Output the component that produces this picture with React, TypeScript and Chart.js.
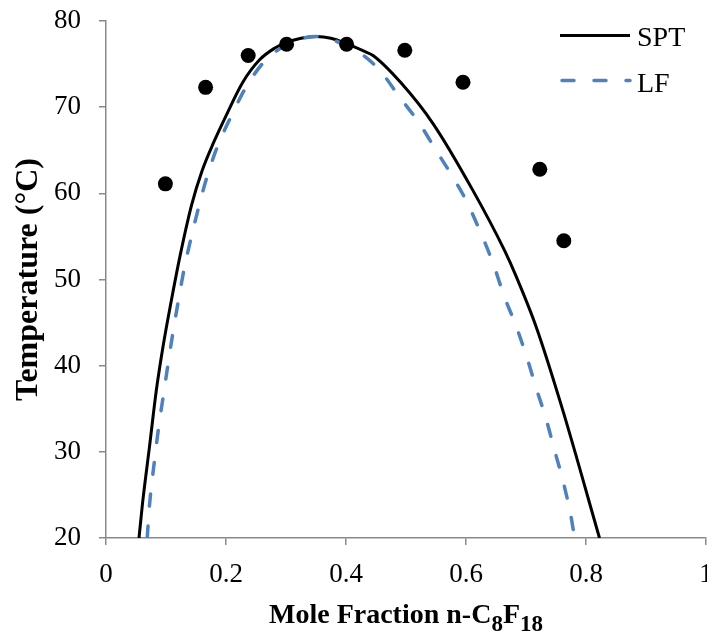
import React, { useEffect, useRef } from 'react';
import { Chart, registerables } from 'chart.js';

Chart.register(...registerables);

// Experimental data (points)
const expX = [0.099, 0.166, 0.237, 0.301, 0.401, 0.498, 0.595, 0.723, 0.763];
const expY = [61.1, 72.3, 76.0, 77.3, 77.3, 76.6, 72.9, 62.8, 54.5];

// SPT curve
const sptX = [0.055, 0.061, 0.0725, 0.084, 0.095, 0.109, 0.123, 0.1425, 0.16, 0.18, 0.2, 0.228, 0.256, 0.28, 0.3, 0.325, 0.35, 0.375, 0.4, 0.43, 0.445, 0.492, 0.545, 0.611, 0.664, 0.684, 0.717, 0.761, 0.8225];
const sptY = [20, 24.1, 30.6, 37.2, 42.2, 47.6, 52.6, 58.6, 62.6, 66.0, 69.0, 72.9, 75.5, 76.8, 77.5, 78.0, 78.2, 78.0, 77.4, 76.5, 76.0, 72.8, 68.1, 60.4, 53.4, 50.3, 44.5, 34.9, 20];

// LF curve
const lfX = [0.0687, 0.0725, 0.081, 0.088, 0.0964, 0.103, 0.111, 0.12, 0.131, 0.139, 0.153, 0.167, 0.185, 0.209, 0.234, 0.264, 0.3, 0.35, 0.4, 0.417, 0.456, 0.489, 0.5225, 0.55, 0.578, 0.6, 0.6225, 0.645, 0.664, 0.684, 0.701, 0.717, 0.734, 0.7475, 0.7625, 0.775, 0.781];
const lfY = [20, 23.8, 29.1, 33.0, 36.9, 40.0, 43.6, 47.3, 51.5, 54.0, 58.0, 61.6, 65.3, 69.0, 72.4, 75.3, 77.2, 78.2, 77.2, 76.6, 74.3, 71.2, 68.1, 65.0, 61.9, 59.2, 55.75, 51.9, 48.0, 44.5, 41.05, 37.4, 33.7, 30.2, 26.4, 22.5, 20];

const seriesNames = ['SPT', 'LF'];
const xTitleParts = ['Mole Fraction n-C', '8', 'F', '18'];
const yTitle = 'Temperature (°C)';
const xTickLabels = ['0', '0.2', '0.4', '0.6', '0.8', '1'];
const yTickLabels = ['20', '30', '40', '50', '60', '70', '80'];

const SERIF = "'Liberation Serif', 'Times New Roman', serif";
const BLUE = '#4f81bd';
const AXIS = '#898989';

const toPts = (xs: number[], ys: number[]) => xs.map((x, i) => ({ x, y: ys[i] }));

const decorPlugin = {
  id: 'decor',
  afterDraw(chart: any) {
    const ctx = chart.ctx as CanvasRenderingContext2D;
    const area = chart.chartArea;
    ctx.save();
    ctx.fillStyle = '#000';
    // Y title
    ctx.save();
    ctx.translate(37, (area.top + area.bottom) / 2);
    ctx.rotate(-Math.PI / 2);
    ctx.font = `bold 32px ${SERIF}`;
    ctx.textAlign = 'center';
    ctx.textBaseline = 'alphabetic';
    ctx.fillText(yTitle, 0, 0);
    ctx.restore();

    // X title with subscripts
    const mainFont = `bold 28px ${SERIF}`;
    const subFont = `bold 23px ${SERIF}`;
    const base = 622.5;
    const subShift = 8;
    ctx.textBaseline = 'alphabetic';
    ctx.textAlign = 'left';
    const fonts = [mainFont, subFont, mainFont, subFont];
    const widths = xTitleParts.map((t, i) => {
      ctx.font = fonts[i];
      return ctx.measureText(t).width;
    });
    const total = widths.reduce((a, b) => a + b, 0);
    let x = (area.left + area.right) / 2 - total / 2;
    xTitleParts.forEach((t, i) => {
      ctx.font = fonts[i];
      ctx.fillText(t, x, i % 2 === 1 ? base + subShift : base);
      x += widths[i];
    });

    // Legend
    const rows = [
      { y: 35.5, color: '#000', width: 3, dash: [] as number[], base: 46 },
      { y: 80.5, color: BLUE, width: 3.5, dash: [12, 20], base: 91.5 },
    ];
    rows.forEach((r, i) => {
      ctx.save();
      ctx.strokeStyle = r.color;
      ctx.lineWidth = r.width;
      ctx.lineCap = i === 0 ? 'butt' : 'round';
      ctx.setLineDash(r.dash);
      ctx.beginPath();
      ctx.moveTo(i === 0 ? 560 : 562, r.y);
      ctx.lineTo(630, r.y);
      ctx.stroke();
      ctx.restore();
      ctx.font = `28px ${SERIF}`;
      ctx.fillStyle = '#000';
      ctx.fillText(seriesNames[i], 637, r.base);
    });
    ctx.restore();
  },
};

export default function App() {
  const ref = useRef<HTMLCanvasElement | null>(null);
  useEffect(() => {
    if (!ref.current) return;
    const chart = new Chart(ref.current, {
      type: 'scatter',
      data: {
        datasets: [
          {
            label: 'Experimental',
            data: toPts(expX, expY),
            showLine: false,
            pointRadius: 7.5,
            pointBackgroundColor: '#000',
            pointBorderWidth: 0,
            pointBorderColor: '#000',
          },
          {
            label: seriesNames[1],
            data: toPts(lfX, lfY),
            showLine: true,
            pointRadius: 0,
            borderColor: BLUE,
            borderWidth: 3.5,
            borderDash: [12, 20],
            borderCapStyle: 'round',
            cubicInterpolationMode: 'monotone',
          },
          {
            label: seriesNames[0],
            data: toPts(sptX, sptY),
            showLine: true,
            pointRadius: 0,
            borderColor: '#000',
            borderWidth: 3,
            cubicInterpolationMode: 'monotone',
          },
        ],
      } as any,
      options: {
        animation: false,
        responsive: true,
        maintainAspectRatio: false,
        layout: { autoPadding: false, padding: { top: 21, right: 1, left: 0, bottom: 0 } } as any,
        plugins: { legend: { display: false }, tooltip: { enabled: false } },
        scales: {
          x: {
            type: 'linear',
            min: 0,
            max: 1,
            afterFit: (s: any) => { s.height = 96; s.paddingLeft = 0; s.paddingRight = 0; },
            border: { color: AXIS, width: 1.5 },
            grid: { drawOnChartArea: false, drawTicks: true, tickLength: 7, color: AXIS, lineWidth: 1.5 },
            ticks: {
              stepSize: 0.2,
              padding: 14,
              color: '#000',
              font: { family: SERIF, size: 27 },
              maxRotation: 0,
              callback: (v: any) => xTickLabels[Math.round(Number(v) * 5)] ?? '',
            },
          },
          y: {
            type: 'linear',
            min: 20,
            max: 80,
            afterFit: (s: any) => { s.width = 106; s.paddingTop = 0; s.paddingBottom = 0; },
            border: { color: AXIS, width: 1.5 },
            grid: { drawOnChartArea: false, drawTicks: true, tickLength: 7, color: AXIS, lineWidth: 1.5 },
            ticks: {
              stepSize: 10,
              padding: 18,
              color: '#000',
              font: { family: SERIF, size: 27 },
              callback: (v: any) => yTickLabels[Math.round((Number(v) - 20) / 10)] ?? '',
            },
          },
        },
      } as any,
      plugins: [decorPlugin],
    });
    return () => chart.destroy();
  }, []);
  return (
    <div style={{ position: 'fixed', left: 0, top: 0, width: 707, height: 634, background: '#fff' }}>
      <canvas ref={ref} />
    </div>
  );
}
